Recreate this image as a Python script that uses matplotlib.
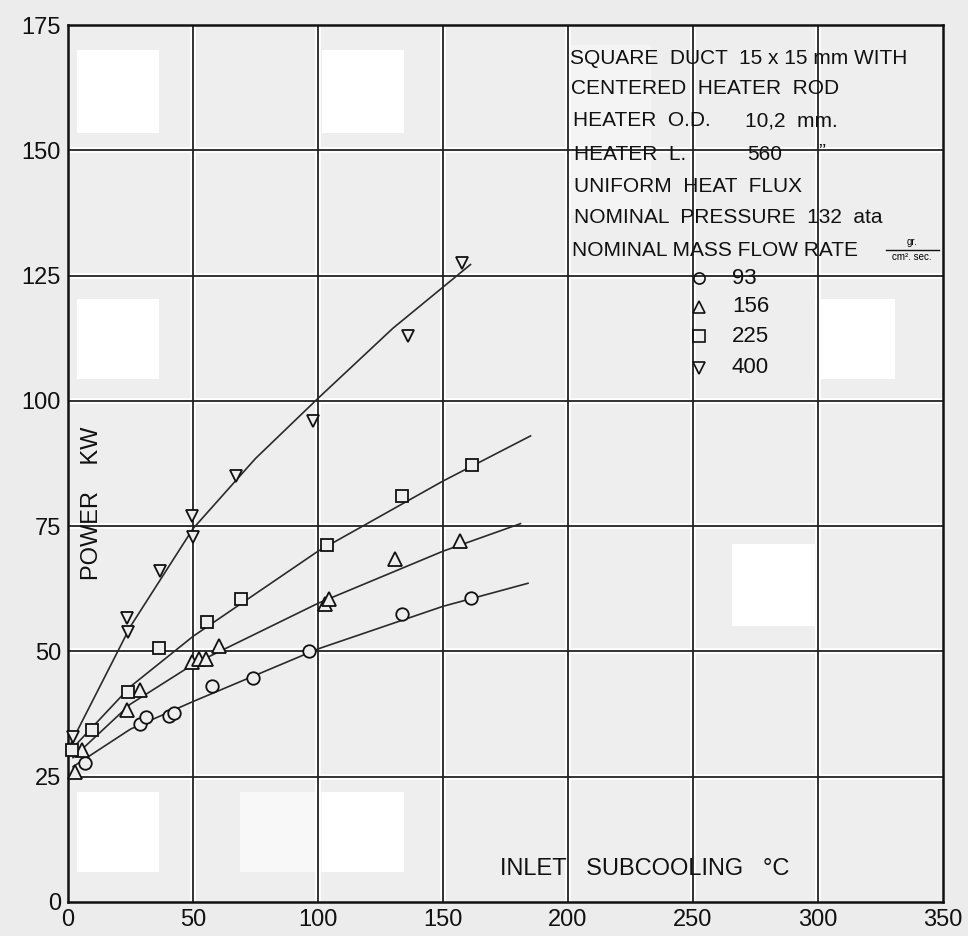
#!/usr/bin/env python

import matplotlib
matplotlib.use('Agg')
import matplotlib.pyplot as plt
from matplotlib.patches import Rectangle

plt.rcParams['font.family'] = ['Liberation Sans', 'DejaVu Sans']

# measured points, power (kW) against inlet subcooling (C)
# nominal mass flow rate 93
g93_x = [6.8, 28.8, 31.2, 40.5, 42.5, 57.6, 74.0, 96.4, 133.6, 161.0]
g93_y = [27.8, 35.6, 37.0, 37.2, 37.8, 43.2, 44.7, 50.0, 57.5, 60.7]
# 156
g156_x = [2.8, 5.6, 23.6, 28.8, 49.6, 52.4, 55.2, 60.4, 102.8, 104.4, 130.8, 156.6]
g156_y = [26.0, 30.4, 38.4, 42.4, 47.8, 48.4, 48.4, 51.0, 59.4, 60.4, 68.5, 72.0]
# 225
g225_x = [1.6, 9.6, 24.0, 36.4, 55.6, 69.2, 103.6, 133.6, 161.4]
g225_y = [30.4, 34.4, 42.0, 50.6, 55.8, 60.5, 71.2, 81.0, 87.2]
# 400
g400_x = [2.0, 23.6, 24.0, 36.8, 49.6, 50.0, 67.2, 98.0, 136.0, 157.6]
g400_y = [33.0, 56.6, 53.8, 66.0, 77.0, 72.8, 85.0, 96.0, 113.0, 127.6]

# hand drawn fitted curves
fit93_x = [2, 25, 50, 100, 150, 184]
fit93_y = [27.0, 34.5, 40.0, 50.5, 59.0, 63.6]
fit156_x = [2, 25, 50, 100, 150, 181]
fit156_y = [28.8, 39.5, 47.4, 59.6, 70.0, 75.5]
fit225_x = [1.5, 25, 50, 100, 150, 185]
fit225_y = [30.5, 43.0, 53.0, 70.0, 84.0, 93.0]
fit400_x = [1, 25, 50, 75, 100, 130, 161]
fit400_y = [31.5, 55.0, 74.5, 88.5, 100.5, 114.5, 127.2]

flow_labels = ['93', '156', '225', '400']
markers = ['o', '^', 's', 'v']

W, H = 968, 936
fig = plt.figure(figsize=(W / 100, H / 100), dpi=100, facecolor='#ececec')
ax = fig.add_axes([68 / W, 1 - 902 / H, 875 / W, 877 / H])
ax.set_facecolor('#eeeeee')
ax.set_xlim(0, 350)
ax.set_ylim(0, 175)

# blank patches on the sheet
patches = [(3.6, 153.4, 32.8, 16.6, 'white'), (101.6, 153.4, 32.8, 16.6, 'white'),
           (3.6, 104.4, 32.8, 16.0, 'white'), (298.8, 104.4, 32.0, 16.0, 'white'),
           (265.6, 55.0, 33.2, 16.4, 'white'), (3.6, 6.0, 32.8, 16.0, 'white'),
           (68.8, 6.0, 32.8, 16.0, '#f8f8f8'), (101.6, 6.0, 32.8, 16.0, 'white'),
           (201.0, 137.0, 32.0, 34.0, '#f4f4f4')]
for x0, y0, w, h, c in patches:
    ax.add_patch(Rectangle((x0, y0), w, h, facecolor=c, edgecolor='none', zorder=0.5))

xt = [0, 50, 100, 150, 200, 250, 300, 350]
yt = [0, 25, 50, 75, 100, 125, 150, 175]
for v in xt[1:-1]:
    ax.axvline(v, color='white', lw=4, zorder=1)
    ax.axvline(v, color='#222222', lw=1.3, zorder=1.5)
for v in yt[1:-1]:
    ax.axhline(v, color='white', lw=4, zorder=1)
    ax.axhline(v, color='#222222', lw=1.3, zorder=1.5)

for s in ax.spines.values():
    s.set_linewidth(1.8)
    s.set_color('#111111')

ax.set_xticks(xt)
ax.set_yticks(yt)
ax.set_xticklabels([str(v) for v in xt], fontsize=17)
ax.set_yticklabels([str(v) for v in yt], fontsize=17)
ax.tick_params(length=0, pad=5, colors='#111111')

fits = [(fit93_x, fit93_y), (fit156_x, fit156_y), (fit225_x, fit225_y), (fit400_x, fit400_y)]
for fx, fy in fits:
    ax.plot(fx, fy, color='#2a2a2a', lw=1.2, zorder=2)

data = [(g93_x, g93_y), (g156_x, g156_y), (g225_x, g225_y), (g400_x, g400_y)]
sizes = [9, 9.5, 8.5, 8.5]
for (dx, dy), m, ms in zip(data, markers, sizes):
    ax.plot(dx, dy, ls='none', marker=m, ms=ms, mfc='#eeeeee', mec='#111111',
            mew=1.3, zorder=3, clip_on=False)


def fpos(px, py):
    return px / W, 1 - py / H


txt = dict(fontsize=15, va='center', ha='left', color='#111111')
fig.text(*fpos(570, 58), 'SQUARE  DUCT  15 x 15 mm WITH', **txt)
fig.text(*fpos(571, 89), 'CENTERED  HEATER  ROD', **txt)
fig.text(*fpos(573, 121), 'HEATER  O.D.', **txt)
fig.text(*fpos(745, 121), '10,2  mm.', **txt)
fig.text(*fpos(574, 154), 'HEATER  L.', **txt)
fig.text(*fpos(747, 154), '560', **txt)
fig.text(*fpos(818, 152), '\u201d', **txt)
fig.text(*fpos(574, 186), 'UNIFORM  HEAT  FLUX', **txt)
fig.text(*fpos(574, 217), 'NOMINAL  PRESSURE  132  ata', **txt)
fig.text(*fpos(572, 250), 'NOMINAL MASS FLOW RATE', **txt)
fig.text(*fpos(912, 242), 'gr.', fontsize=7, ha='center', va='center')
fig.text(*fpos(912, 257), 'cm\u00b2. sec.', fontsize=7, ha='center', va='center')
fig.add_artist(plt.Line2D([886 / W, 939 / W], [1 - 250 / H, 1 - 250 / H],
                          color='#111111', lw=1))

legend_y = [278, 307, 336, 368]
for lab, m, ly in zip(flow_labels, markers, legend_y):
    fx, fy = fpos(699, ly)
    fig.add_artist(plt.Line2D([fx], [fy], marker=m, ms=8, mfc='none',
                              mec='#111111', mew=1.2, ls='none'))
    fig.text(*fpos(732, ly), lab, fontsize=16, va='center', ha='left', color='#111111')

fig.text(*fpos(500, 869), 'INLET   SUBCOOLING   \u00b0C', fontsize=17, va='center',
         ha='left', color='#111111')
fig.text(*fpos(92, 503), 'POWER    KW', fontsize=17, rotation=90,
         va='center', ha='center', color='#111111')

fig.savefig('out.png', dpi=100, facecolor=fig.get_facecolor())
